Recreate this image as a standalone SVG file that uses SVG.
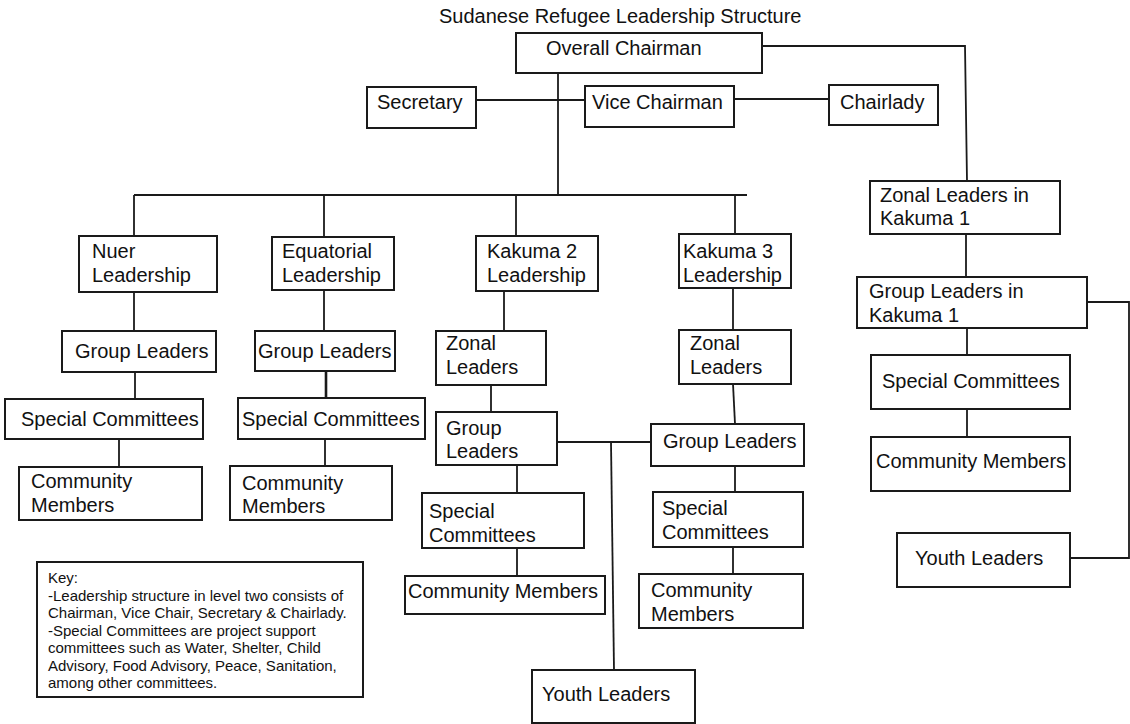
<svg xmlns="http://www.w3.org/2000/svg" width="1130" height="724" viewBox="0 0 1130 724">
  <style>
    .box { fill: #ffffff; stroke: #1a1a1a; stroke-width: 2; }
    .lbl { font-family: "Liberation Sans", Arial, sans-serif; font-size: 20px; fill: #111111; }
    .key { font-family: "Liberation Sans", Arial, sans-serif; font-size: 15px; fill: #111111; }
    .title { font-family: "Liberation Sans", Arial, sans-serif; font-size: 20px; fill: #111111; }
    .conn { fill: none; stroke: #1a1a1a; stroke-width: 1.8; }
  </style>
  <rect width="1130" height="724" fill="#ffffff"/>

  <text class="title" x="439" y="23">Sudanese Refugee Leadership Structure</text>

  <!-- connectors -->
  <g id="connectors" class="conn">
    <path d="M558 73 V195"/>
    <path d="M134 195 H747"/>
    <path d="M476 100 H585"/>
    <path d="M734 99 H829"/>
    <path d="M762 46 H965 L967 181"/>
    <!-- Nuer branch -->
    <path d="M134 195 V236"/>
    <path d="M134 292 V331"/>
    <path d="M135 372 V399"/>
    <path d="M119 439 V467"/>
    <!-- Equatorial branch -->
    <path d="M324 195 V237"/>
    <path d="M324 290 V331"/>
    <path d="M326 371 V398" stroke-width="2.6"/>
    <path d="M325 439 V466"/>
    <!-- Kakuma 2 branch -->
    <path d="M516 195 V236"/>
    <path d="M504 291 V331"/>
    <path d="M491 385 V412"/>
    <path d="M517 465 V493"/>
    <path d="M517 548 V576"/>
    <!-- Kakuma 3 branch -->
    <path d="M735 195 V234"/>
    <path d="M733 288 V330"/>
    <path d="M733 384 L735 424"/>
    <path d="M735 466 V492"/>
    <path d="M733 547 V574"/>
    <!-- shared youth link -->
    <path d="M557 442 H651"/>
    <path d="M611 442 L614 670"/>
    <!-- Kakuma 1 branch -->
    <path d="M966 234 V277"/>
    <path d="M967 328 V355"/>
    <path d="M967 409 V437"/>
    <path d="M1087 302 H1129 V558 H1070"/>
  </g>

  <!-- top level -->
  <g id="overall-chairman">
    <rect class="box" x="516" y="33" width="246" height="40"/>
    <text class="lbl" x="546" y="55">Overall Chairman</text>
  </g>
  <g id="secretary">
    <rect class="box" x="367" y="87" width="109" height="41"/>
    <text class="lbl" x="377" y="109">Secretary</text>
  </g>
  <g id="vice-chairman">
    <rect class="box" x="585" y="86" width="149" height="41"/>
    <text class="lbl" x="592" y="109">Vice Chairman</text>
  </g>
  <g id="chairlady">
    <rect class="box" x="829" y="85" width="109" height="40"/>
    <text class="lbl" x="840" y="109">Chairlady</text>
  </g>

  <!-- Nuer -->
  <g id="nuer-leadership">
    <rect class="box" x="79" y="236" width="138" height="56"/>
    <text class="lbl" x="92" y="258">Nuer</text>
    <text class="lbl" x="92" y="282">Leadership</text>
  </g>
  <g id="nuer-group-leaders">
    <rect class="box" x="62" y="331" width="154" height="41"/>
    <text class="lbl" x="75" y="358">Group Leaders</text>
  </g>
  <g id="nuer-special-committees">
    <rect class="box" x="5" y="399" width="198" height="40"/>
    <text class="lbl" x="21" y="426">Special Committees</text>
  </g>
  <g id="nuer-community-members">
    <rect class="box" x="19" y="467" width="183" height="53"/>
    <text class="lbl" x="31" y="488">Community</text>
    <text class="lbl" x="31" y="512">Members</text>
  </g>

  <!-- Equatorial -->
  <g id="equatorial-leadership">
    <rect class="box" x="272" y="237" width="122" height="53"/>
    <text class="lbl" x="282" y="258">Equatorial</text>
    <text class="lbl" x="282" y="282">Leadership</text>
  </g>
  <g id="equatorial-group-leaders">
    <rect class="box" x="255" y="331" width="140" height="40"/>
    <text class="lbl" x="258" y="358">Group Leaders</text>
  </g>
  <g id="equatorial-special-committees">
    <rect class="box" x="238" y="398" width="187" height="41"/>
    <text class="lbl" x="242" y="426">Special Committees</text>
  </g>
  <g id="equatorial-community-members">
    <rect class="box" x="230" y="466" width="162" height="54"/>
    <text class="lbl" x="242" y="490">Community</text>
    <text class="lbl" x="242" y="513">Members</text>
  </g>

  <!-- Kakuma 2 -->
  <g id="kakuma2-leadership">
    <rect class="box" x="476" y="236" width="122" height="55"/>
    <text class="lbl" x="487" y="258">Kakuma 2</text>
    <text class="lbl" x="487" y="282">Leadership</text>
  </g>
  <g id="kakuma2-zonal-leaders">
    <rect class="box" x="436" y="331" width="110" height="54"/>
    <text class="lbl" x="446" y="350">Zonal</text>
    <text class="lbl" x="446" y="374">Leaders</text>
  </g>
  <g id="kakuma2-group-leaders">
    <rect class="box" x="436" y="412" width="121" height="53"/>
    <text class="lbl" x="446" y="435">Group</text>
    <text class="lbl" x="446" y="458">Leaders</text>
  </g>
  <g id="kakuma2-special-committees">
    <rect class="box" x="422" y="493" width="162" height="55"/>
    <text class="lbl" x="429" y="518">Special</text>
    <text class="lbl" x="429" y="542">Committees</text>
  </g>
  <g id="kakuma2-community-members">
    <rect class="box" x="405" y="576" width="200" height="38"/>
    <text class="lbl" x="408" y="598">Community Members</text>
  </g>

  <!-- Kakuma 3 -->
  <g id="kakuma3-leadership">
    <rect class="box" x="679" y="234" width="112" height="54"/>
    <text class="lbl" x="683" y="258">Kakuma 3</text>
    <text class="lbl" x="683" y="282">Leadership</text>
  </g>
  <g id="kakuma3-zonal-leaders">
    <rect class="box" x="679" y="330" width="112" height="54"/>
    <text class="lbl" x="690" y="350">Zonal</text>
    <text class="lbl" x="690" y="374">Leaders</text>
  </g>
  <g id="kakuma3-group-leaders">
    <rect class="box" x="651" y="424" width="153" height="42"/>
    <text class="lbl" x="663" y="448">Group Leaders</text>
  </g>
  <g id="kakuma3-special-committees">
    <rect class="box" x="653" y="492" width="150" height="55"/>
    <text class="lbl" x="662" y="515">Special</text>
    <text class="lbl" x="662" y="539">Committees</text>
  </g>
  <g id="kakuma3-community-members">
    <rect class="box" x="639" y="574" width="164" height="54"/>
    <text class="lbl" x="651" y="597">Community</text>
    <text class="lbl" x="651" y="621">Members</text>
  </g>

  <!-- shared youth leaders -->
  <g id="youth-leaders">
    <rect class="box" x="532" y="670" width="163" height="53"/>
    <text class="lbl" x="542" y="701">Youth Leaders</text>
  </g>

  <!-- Kakuma 1 -->
  <g id="kakuma1-zonal-leaders">
    <rect class="box" x="870" y="181" width="190" height="53"/>
    <text class="lbl" x="880" y="202">Zonal Leaders in</text>
    <text class="lbl" x="880" y="225">Kakuma 1</text>
  </g>
  <g id="kakuma1-group-leaders">
    <rect class="box" x="857" y="277" width="230" height="51"/>
    <text class="lbl" x="869" y="298">Group Leaders in</text>
    <text class="lbl" x="869" y="322">Kakuma 1</text>
  </g>
  <g id="kakuma1-special-committees">
    <rect class="box" x="871" y="355" width="199" height="54"/>
    <text class="lbl" x="882" y="388">Special Committees</text>
  </g>
  <g id="kakuma1-community-members">
    <rect class="box" x="871" y="437" width="199" height="54"/>
    <text class="lbl" x="876" y="468">Community Members</text>
  </g>
  <g id="kakuma1-youth-leaders">
    <rect class="box" x="897" y="533" width="173" height="54"/>
    <text class="lbl" x="915" y="565">Youth Leaders</text>
  </g>

  <!-- key -->
  <g id="key">
    <rect class="box" x="37" y="562" width="326" height="135"/>
    <text class="key" x="48" y="583">Key:</text>
    <text class="key" x="48" y="600.5">-Leadership structure in level two consists of</text>
    <text class="key" x="48" y="618">Chairman, Vice Chair, Secretary &amp; Chairlady.</text>
    <text class="key" x="48" y="635.5">-Special Committees are project support</text>
    <text class="key" x="48" y="653">committees such as Water, Shelter, Child</text>
    <text class="key" x="48" y="670.5">Advisory, Food Advisory, Peace, Sanitation,</text>
    <text class="key" x="48" y="688">among other committees.</text>
  </g>
</svg>
